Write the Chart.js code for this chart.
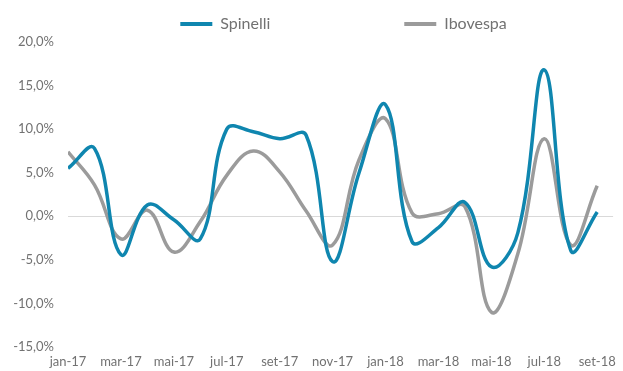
<!DOCTYPE html>
<html>
<head>
<meta charset="utf-8">
<script src="https://cdn.jsdelivr.net/npm/chart.js@4"></script>
<style>
  body { margin: 0; background: #fff; }
  #wrap { width: 623px; height: 371px; }
</style>
</head>
<body>
<div id="wrap"><canvas id="chart"></canvas></div>
<script>
// monthly returns (%), jan-17 .. set-18
const months = ['jan-17', 'fev-17', 'mar-17', 'abr-17', 'mai-17', 'jun-17', 'jul-17', 'ago-17', 'set-17', 'out-17', 'nov-17', 'dez-17',
                'jan-18', 'fev-18', 'mar-18', 'abr-18', 'mai-18', 'jun-18', 'jul-18', 'ago-18', 'set-18'];
const spinelli = [5.5, 7.8, -4.4, 1.3, -0.4, -2.6, 10.0, 9.7, 8.9, 9.3, -5.2, 5.0,
                  12.8, -2.9, -1.3, 1.6, -5.8, -1.9, 16.8, -3.9, 0.5];
const ibovespa = [7.4, 3.6, -2.6, 0.7, -4.1, -0.6, 4.7, 7.5, 5.1, 0.6, -3.3, 6.5,
                  11.2, 0.4, 0.3, 1.1, -11.0, -4.3, 8.9, -3.3, 3.5];
const yTicks = [-15, -10, -5, 0, 5, 10, 15, 20];

const grey = '#727272';
const toPoints = arr => arr.map((v, i) => ({ x: i, y: v }));

// nudge the legend a little to the right, as in the original
const legendShift = {
    id: 'legendShift',
    afterLayout(chart) {
        chart.legend.left += 3;
        chart.legend.right += 3;
    }
};

new Chart(document.getElementById('chart'), {
    type: 'line',
    data: {
        datasets: [
            {
                label: 'Spinelli',
                data: toPoints(spinelli),
                borderColor: '#0F86AF',
                backgroundColor: '#0F86AF',
                borderWidth: 3.5,
                pointRadius: 0,
                tension: 0.4
            },
            {
                label: 'Ibovespa',
                data: toPoints(ibovespa),
                borderColor: '#9B9B9B',
                backgroundColor: '#9B9B9B',
                borderWidth: 3.5,
                pointRadius: 0,
                tension: 0.4
            }
        ]
    },
    plugins: [legendShift],
    options: {
        responsive: true,
        maintainAspectRatio: false,
        animation: false,
        layout: { padding: { left: 0, right: 3, top: 0, bottom: 0 } },
        plugins: {
            tooltip: { enabled: false },
            legend: {
                position: 'top',
                fullSize: false,
                labels: {
                    usePointStyle: true,
                    pointStyle: 'line',
                    pointStyleWidth: 32,
                    padding: 11,
                    color: grey,
                    font: { family: 'Lato', size: 16 },
                    // wide gap between the two entries
                    generateLabels(chart) {
                        const items = Chart.defaults.plugins.legend.labels.generateLabels(chart);
                        items.forEach((it, i) => {
                            it.pointStyle = 'line';
                            it.lineWidth = 4;
                            if (i === 0) it.text = it.text + ' '.repeat(30);
                        });
                        return items;
                    }
                }
            }
        },
        scales: {
            x: {
                type: 'linear',
                min: 0,
                max: 20.6,
                grid: { display: false, drawTicks: false },
                border: { display: false },
                afterFit: scale => { scale.height = 24; },
                ticks: {
                    stepSize: 2,
                    includeBounds: false,
                    autoSkip: false,
                    maxRotation: 0,
                    padding: 7,
                    color: grey,
                    font: { family: 'Lato', size: 13 },
                    callback: v => months[v]
                }
            },
            y: {
                min: -15,
                max: 20,
                afterBuildTicks: scale => { scale.ticks = yTicks.map(v => ({ value: v })); },
                afterFit: scale => { scale.width = 68; scale.paddingTop = 42; },
                grid: {
                    drawTicks: false,
                    color: ctx => ctx.tick && ctx.tick.value === 0 ? '#d9d9d9' : 'rgba(0,0,0,0)',
                    lineWidth: 1
                },
                border: { display: false },
                ticks: {
                    padding: 14,
                    color: grey,
                    font: { family: 'Lato', size: 13 },
                    callback: v => v.toFixed(1).replace('.', ',') + '%'
                }
            }
        }
    }
});
</script>
</body>
</html>
